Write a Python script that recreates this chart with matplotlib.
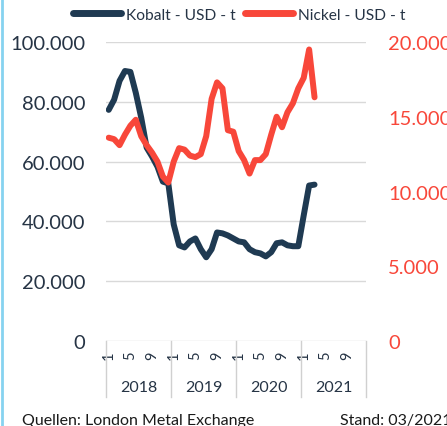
import matplotlib
matplotlib.use('Agg')
import matplotlib.pyplot as plt
from matplotlib.lines import Line2D

# Monatswerte Jan 2018 - Mär 2021 (USD je Tonne)
kobalt = [77300, 80700, 87000, 90300, 90000, 83000, 74700, 64700, 61700, 58300, 53300, 52700,
          39000, 32000, 31300, 33300, 34300, 30700, 28000, 30700, 36300, 36000, 35300, 34300,
          33300, 33000, 30700, 29700, 29300, 28300, 29700, 32700, 33000, 32000, 31700, 31700,
          42000, 52000, 52300]
nickel = [13600, 13500, 13100, 13800, 14400, 14800, 13700, 13100, 12600, 12000, 11000, 10600,
          12000, 12900, 12800, 12400, 12300, 12500, 13700, 16200, 17300, 16900, 14100, 14000,
          12700, 12100, 11200, 12100, 12100, 12500, 13800, 15000, 14300, 15300, 15900, 16900,
          17600, 19500, 16300]
years = ['2018', '2019', '2020', '2021']
month_labels = ['1', '5', '9']
left_ticks = [0, 20000, 40000, 60000, 80000, 100000]
right_ticks = [0, 5000, 10000, 15000, 20000]

c_kob = '#1F3A52'
c_nic = '#F8473A'
c_grid = '#D9D9D9'
c_sep = '#D0D0D0'
font = 'Lato'

plt.rcParams['font.family'] = font

fig = plt.figure(figsize=(4.47, 4.27), dpi=100)
fig.patch.set_facecolor('white')
ax = fig.add_axes([106 / 447, 1 - 342 / 427, 260 / 447, 299 / 427])
ax2 = ax.twinx()

x = list(range(len(kobalt)))
ax.plot(x, kobalt, color=c_kob, linewidth=4.3, solid_capstyle='round',
        solid_joinstyle='round', label='Kobalt - USD - t')
ax2.plot(x, nickel, color=c_nic, linewidth=4.3, solid_capstyle='round',
         solid_joinstyle='round', label='Nickel - USD - t')

n_months = 12 * len(years)
ax.set_xlim(-0.5, n_months - 0.5)
ax.set_ylim(0, 100000)
ax2.set_ylim(0, 20000)

ax.set_yticks(left_ticks)
ax.set_yticklabels([f'{v:,}'.replace(',', '.') for v in left_ticks])
ax2.set_yticks(right_ticks)
ax2.set_yticklabels([f'{v:,}'.replace(',', '.') for v in right_ticks])

ax.tick_params(axis='y', length=0, pad=15, labelsize=14.5, labelcolor='#263445')
ax2.tick_params(axis='y', length=0, pad=16, labelsize=14.5, labelcolor=c_nic)

# Monats-Ticks 1, 5, 9 je Jahr
ax.set_xticks([12 * i + m for i in range(len(years)) for m in (0, 4, 8)])
ax.set_xticklabels(month_labels * len(years), rotation=90)
ax.tick_params(axis='x', length=0, pad=7, labelsize=10.5, labelcolor='#263445')

ax.grid(axis='y', color=c_grid, linewidth=1)
ax.set_axisbelow(True)
for a in (ax, ax2):
    for s in a.spines.values():
        s.set_visible(False)
ax2.grid(False)

# Jahresbeschriftung und Trennlinien unter der Achse
tr = ax.get_xaxis_transform()
for i in range(len(years) + 1):
    ax.plot([12 * i - 0.5] * 2, [0, -0.187], color=c_sep, linewidth=1,
            transform=tr, clip_on=False)
for i, yr in enumerate(years):
    ax.text(12 * i + 5.5, -0.154, yr, transform=tr, ha='center', va='center',
            fontsize=11.5, color='#263445')

# Legende
handles = [Line2D([], [], color=c_kob, linewidth=5, solid_capstyle='round'),
           Line2D([], [], color=c_nic, linewidth=5, solid_capstyle='round')]
fig.legend(handles, ['Kobalt - USD - t', 'Nickel - USD - t'], loc='center',
           bbox_to_anchor=(0.535, 0.963), ncol=2, frameon=False, fontsize=11.2,
           handlelength=3.1, handletextpad=0.3, columnspacing=0.6,
           labelcolor='#263445')

# Fußzeile
fig.text(22 / 447, 1 - 421 / 427, 'Quellen: London Metal Exchange', ha='left',
         va='center', fontsize=11.5, color='#1A1A1A')
fig.text(340 / 447, 1 - 421 / 427, 'Stand: 03/2021', ha='left', va='center',
         fontsize=11.5, color='#1A1A1A')

# hellblaue Linie am linken Rand
fig.add_artist(Line2D([0.004, 0.004], [0, 1], color='#86D3F0', linewidth=2,
                      transform=fig.transFigure))

fig.savefig('out.png', dpi=100, facecolor='white')
plt.close(fig)
